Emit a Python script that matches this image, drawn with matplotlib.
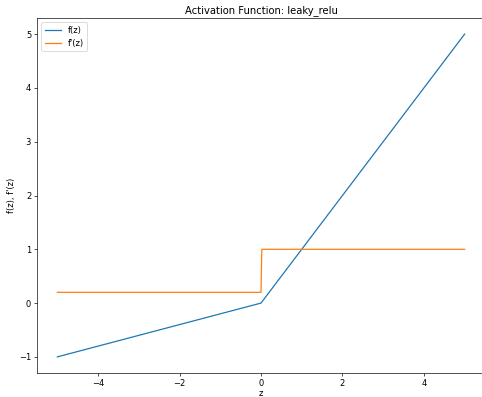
import matplotlib
matplotlib.use("Agg")
import matplotlib.pyplot as plt

# Leaky ReLU und Ableitung
z_f = [-5, 0, 5]
f_vals = [-1, 0, 5]
z_df = [-5, 0, 0.02, 5]
df_vals = [0.2, 0.2, 1, 1]

DPI = 60
fig = plt.figure(figsize=(482 / DPI, 397 / DPI), dpi=DPI)
ax = fig.add_axes([37 / 482, 1 - 373 / 397, 448 / 482, 355 / 397])

ax.plot(z_f, f_vals, label="f(z)")
ax.plot(z_df, df_vals, label="f'(z)")

ax.set_title("Activation Function: leaky_relu")
ax.set_xlabel("z", labelpad=1)
ax.set_ylabel("f(z), f'(z)")
ax.legend(loc="upper left")

fig.savefig("out.png", dpi=DPI)
